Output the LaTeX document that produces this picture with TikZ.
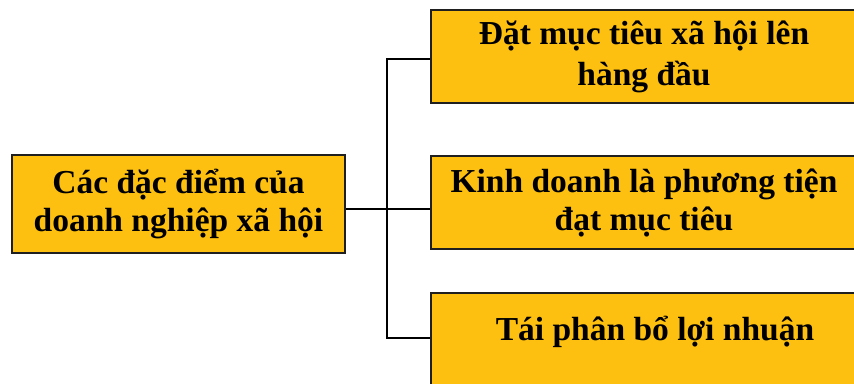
\documentclass[tikz,border=0pt]{standalone}
\usepackage{fontspec}
\setmainfont{Liberation Serif}
\definecolor{boxgold}{HTML}{FDC010}
\begin{document}
\begin{tikzpicture}[x=1pt,y=-1pt,
  box/.style={draw=black!88, line width=2pt, fill=boxgold, inner sep=0pt,
    align=center, font=\bfseries\fontsize{33.5}{38}\selectfont},
  lbl/.style={inner sep=0pt, font=\bfseries\fontsize{33.5}{38}\selectfont},
  link/.style={line width=1.6pt, draw=black}]
\clip (0,0) rectangle (854,383);
\fill[white] (0,0) rectangle (854,383);
% left: the subject
\node[box, minimum width=333pt, minimum height=98pt] (root) at (178.5,204)
  {Các đặc điểm của\\doanh nghiệp xã hội};
% right: the three characteristics
\node[box, minimum width=426pt, minimum height=93pt,
  font=\bfseries\fontsize{33.5}{41}\selectfont] (b1) at (644,56.5)
  {Đặt mục tiêu xã hội lên\\hàng đầu};
\node[box, minimum width=426pt, minimum height=93pt] (b2) at (644,202.5)
  {Kinh doanh là phương tiện\\đạt mục tiêu};
\node[box, minimum width=426pt, minimum height=111pt] (b3) at (644,348.5) {};
\node[lbl, anchor=base] (t3) at (655,340) {Tái phân bổ lợi nhuận};
% connectors
\coordinate (jt) at (387,59);
\coordinate (jm) at (387,209);
\coordinate (jb) at (387,338);
\draw[link] (root.east |- jm) -- (b2.west |- jm);
\draw[link] (b1.west |- jt) -- (jt) -- (jb) -- (b3.west |- jb);
\end{tikzpicture}
\end{document}
